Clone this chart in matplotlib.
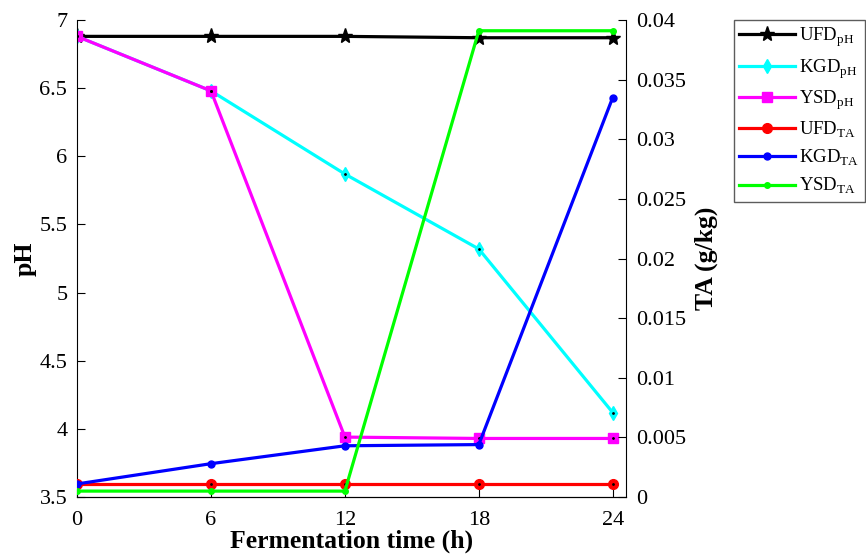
import numpy as np
import matplotlib.pyplot as plt

plt.rcParams['font.family'] = 'Liberation Serif'
plt.rcParams['mathtext.fontset'] = 'custom'
plt.rcParams['mathtext.rm'] = 'Liberation Serif'

# fermentation time (h)
t = [0, 6, 12, 18, 24]

# pH
ufd_ph = [6.88, 6.88, 6.88, 6.87, 6.87]
kgd_ph = [6.88, 6.48, 5.87, 5.32, 4.12]
ysd_ph = [6.88, 6.48, 3.94, 3.93, 3.93]

# titratable acidity (g/kg)
ufd_ta = [0.0011, 0.0011, 0.0011, 0.0011, 0.0011]
kgd_ta = [0.0011, 0.0028, 0.0043, 0.0044, 0.0335]
ysd_ta = [0.0005, 0.0005, 0.0005, 0.0391, 0.0391]

fig = plt.figure(figsize=(8.66, 5.56), dpi=100)
ax = fig.add_axes([0.089, 0.106, 0.634, 0.858])
ax2 = ax.twinx()

lw = 2.3
h1, = ax.plot(t, ufd_ph, color='black', lw=lw, marker='*', ms=11, label=r'UFD$_{\mathrm{pH}}$')
h2, = ax.plot(t, kgd_ph, color='cyan', lw=lw, marker='d', ms=7, label=r'KGD$_{\mathrm{pH}}$')
h3, = ax.plot(t, ysd_ph, color='magenta', lw=lw, marker='s', ms=7, label=r'YSD$_{\mathrm{pH}}$')
ax.plot(t, kgd_ph, ls='none', marker='.', ms=2, color='black')
ax.plot(t, ysd_ph, ls='none', marker='.', ms=2, color='black')

h4, = ax2.plot(t, ufd_ta, color='red', lw=lw, marker='o', ms=7, label=r'UFD$_{\mathrm{TA}}$')
ax2.plot(t, ufd_ta, ls='none', marker='.', ms=2, color='black')
h5, = ax2.plot(t, kgd_ta, color='blue', lw=lw, marker='o', ms=5, label=r'KGD$_{\mathrm{TA}}$')
h6, = ax2.plot(t, ysd_ta, color='lime', lw=lw, marker='o', ms=4, label=r'YSD$_{\mathrm{TA}}$')

ax.set_xlim(0, 24.6)
ax.set_ylim(3.5, 7)
ax2.set_ylim(0, 0.04)
ax.set_xticks(t)
ax.set_yticks(np.arange(3.5, 7.01, 0.5))
ax.set_yticklabels(['3.5', '4', '4.5', '5', '5.5', '6', '6.5', '7'])
ax2.set_yticks(np.arange(0, 0.0401, 0.005))
ax2.set_yticklabels(['0', '0.005', '0.01', '0.015', '0.02', '0.025', '0.03', '0.035', '0.04'])

for a in (ax, ax2):
    a.spines['top'].set_visible(False)
    a.tick_params(direction='in', labelsize=16, length=6, pad=7)
ax.tick_params(axis='x', pad=10)
ax2.spines['left'].set_visible(False)
ax.spines['right'].set_visible(False)

ax.set_xlabel('Fermentation time (h)', fontsize=18.5, fontweight='bold', labelpad=0)
ax.set_ylabel('pH', fontsize=18.5, fontweight='bold', labelpad=2)
ax2.set_ylabel('TA (g/kg)', fontsize=18.5, fontweight='bold', labelpad=6)

fig.legend(handles=[h1, h2, h3, h4, h5, h6], loc='upper left',
           bbox_to_anchor=(0.847, 0.964), fontsize=13.5, frameon=True,
           fancybox=False, edgecolor='#333333', handlelength=3.0,
           labelspacing=0.42, borderpad=0.3, handletextpad=0.2,
           borderaxespad=0)

fig.savefig('out.png', dpi=100)
